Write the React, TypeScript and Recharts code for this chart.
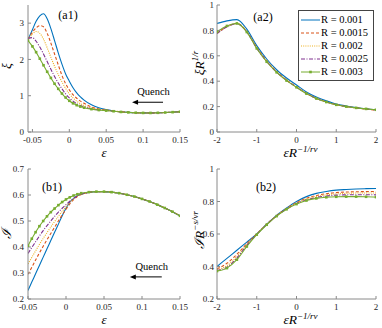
import React from 'react';
import { LineChart, Line, XAxis, YAxis, ReferenceLine, Legend } from 'recharts';

const FONT = 'Liberation Serif, Times New Roman, serif';
const AXIS = '#8a8a8a';
const INK = '#262626';

const R_NAMES = ['R = 0.001', 'R = 0.0015', 'R = 0.002', 'R = 0.0025', 'R = 0.003'];
const R_COLORS = ['#0072BD', '#D95319', '#EDB120', '#7E2F8E', '#77AC30'];
const R_DASHES = [undefined, '3 2', '1 1.2', '4 1.5 1 1.5', undefined];

// (a1) xi vs epsilon
const A1_EPS = [-0.056, -0.05, -0.045, -0.04, -0.035, -0.03, -0.025, -0.02, -0.015, -0.01, -0.005, 0, 0.005, 0.01, 0.015, 0.02, 0.03, 0.04, 0.05, 0.06, 0.07, 0.08, 0.09, 0.1, 0.11, 0.12, 0.13, 0.14, 0.15];
const A1_R0010 = [2.55, 2.82, 3.05, 3.2, 3.26, 3.12, 2.85, 2.52, 2.18, 1.87, 1.6, 1.4, 1.22, 1.08, 0.97, 0.88, 0.75, 0.67, 0.62, 0.58, 0.557, 0.542, 0.532, 0.527, 0.526, 0.53, 0.538, 0.548, 0.56];
const A1_R0015 = [2.55, 2.75, 2.87, 2.93, 2.9, 2.72, 2.45, 2.15, 1.85, 1.56, 1.33, 1.16, 1.03, 0.93, 0.85, 0.79, 0.69, 0.635, 0.605, 0.578, 0.556, 0.541, 0.531, 0.526, 0.525, 0.529, 0.537, 0.547, 0.559];
const A1_R0020 = [2.55, 2.7, 2.77, 2.72, 2.56, 2.32, 2.06, 1.81, 1.58, 1.38, 1.2, 1.05, 0.94, 0.85, 0.78, 0.73, 0.66, 0.62, 0.6, 0.576, 0.555, 0.541, 0.531, 0.526, 0.525, 0.529, 0.537, 0.547, 0.559];
const A1_R0025 = [2.58, 2.6, 2.5, 2.34, 2.15, 1.94, 1.73, 1.53, 1.35, 1.19, 1.05, 0.94, 0.85, 0.78, 0.73, 0.69, 0.64, 0.61, 0.595, 0.574, 0.554, 0.54, 0.531, 0.526, 0.525, 0.529, 0.537, 0.547, 0.559];
const A1_R0030 = [2.52, 2.36, 2.2, 2.02, 1.84, 1.66, 1.49, 1.33, 1.19, 1.06, 0.95, 0.86, 0.79, 0.74, 0.7, 0.67, 0.63, 0.605, 0.59, 0.572, 0.553, 0.54, 0.531, 0.526, 0.525, 0.529, 0.537, 0.547, 0.559];

// (a2) scaled xi
const A2_X = [-2, -1.75, -1.5, -1.25, -1, -0.75, -0.5, -0.25, 0, 0.25, 0.5, 0.75, 1, 1.25, 1.5, 1.75, 2];
const A2_R0010 = [0.855, 0.875, 0.885, 0.81, 0.68, 0.575, 0.49, 0.425, 0.37, 0.315, 0.275, 0.245, 0.22, 0.205, 0.193, 0.183, 0.175];
const A2_R0015 = [0.775, 0.83, 0.855, 0.79, 0.665, 0.56, 0.475, 0.41, 0.355, 0.305, 0.265, 0.237, 0.215, 0.2, 0.19, 0.18, 0.173];
const A2_R0020 = [0.78, 0.83, 0.855, 0.79, 0.663, 0.558, 0.473, 0.408, 0.354, 0.304, 0.265, 0.237, 0.215, 0.2, 0.19, 0.181, 0.174];
const A2_R0025 = [0.775, 0.828, 0.853, 0.788, 0.66, 0.556, 0.472, 0.407, 0.353, 0.303, 0.264, 0.236, 0.215, 0.2, 0.19, 0.181, 0.174];
const A2_R0030 = [0.79, 0.835, 0.855, 0.787, 0.658, 0.553, 0.47, 0.405, 0.352, 0.302, 0.263, 0.236, 0.214, 0.2, 0.19, 0.182, 0.175];

// (b1) I vs epsilon
const B1_EPS = [-0.05, -0.045, -0.04, -0.035, -0.03, -0.025, -0.02, -0.015, -0.01, -0.005, 0, 0.005, 0.01, 0.015, 0.02, 0.03, 0.04, 0.05, 0.06, 0.07, 0.08, 0.09, 0.1, 0.11, 0.12, 0.13, 0.14, 0.15];
const B1_R0010 = [0.233, 0.265, 0.297, 0.329, 0.361, 0.393, 0.425, 0.457, 0.488, 0.52, 0.549, 0.572, 0.587, 0.597, 0.603, 0.61, 0.613, 0.613, 0.611, 0.607, 0.601, 0.594, 0.585, 0.575, 0.563, 0.55, 0.536, 0.52];
const B1_R0015 = [0.295, 0.322, 0.35, 0.377, 0.403, 0.428, 0.452, 0.476, 0.5, 0.523, 0.545, 0.566, 0.582, 0.594, 0.602, 0.61, 0.613, 0.613, 0.611, 0.607, 0.601, 0.594, 0.585, 0.575, 0.563, 0.55, 0.536, 0.52];
const B1_R0020 = [0.335, 0.36, 0.385, 0.41, 0.433, 0.455, 0.477, 0.498, 0.518, 0.537, 0.555, 0.572, 0.585, 0.595, 0.602, 0.61, 0.613, 0.613, 0.611, 0.607, 0.601, 0.594, 0.585, 0.575, 0.563, 0.55, 0.536, 0.52];
const B1_R0025 = [0.375, 0.398, 0.42, 0.442, 0.463, 0.482, 0.5, 0.518, 0.534, 0.549, 0.563, 0.576, 0.587, 0.596, 0.603, 0.61, 0.613, 0.613, 0.611, 0.607, 0.601, 0.594, 0.585, 0.575, 0.563, 0.55, 0.536, 0.52];
const B1_R0030 = [0.405, 0.432, 0.457, 0.48, 0.5, 0.518, 0.534, 0.548, 0.561, 0.573, 0.583, 0.591, 0.598, 0.603, 0.607, 0.611, 0.613, 0.613, 0.611, 0.607, 0.601, 0.594, 0.585, 0.575, 0.563, 0.55, 0.536, 0.52];

// (b2) scaled I
const B2_X = [-2, -1.75, -1.5, -1.25, -1, -0.75, -0.5, -0.25, 0, 0.25, 0.5, 0.75, 1, 1.25, 1.5, 1.75, 2];
const B2_R0010 = [0.4, 0.45, 0.5, 0.55, 0.6, 0.66, 0.715, 0.76, 0.8, 0.83, 0.85, 0.862, 0.87, 0.874, 0.877, 0.879, 0.88];
const B2_R0015 = [0.385, 0.42, 0.475, 0.54, 0.6, 0.66, 0.713, 0.757, 0.793, 0.82, 0.837, 0.848, 0.855, 0.858, 0.86, 0.861, 0.862];
const B2_R0020 = [0.38, 0.405, 0.462, 0.535, 0.599, 0.659, 0.712, 0.755, 0.79, 0.815, 0.831, 0.841, 0.847, 0.85, 0.852, 0.852, 0.852];
const B2_R0025 = [0.376, 0.395, 0.452, 0.53, 0.598, 0.658, 0.711, 0.753, 0.787, 0.81, 0.825, 0.834, 0.839, 0.841, 0.842, 0.842, 0.841];
const B2_R0030 = [0.372, 0.39, 0.442, 0.523, 0.596, 0.657, 0.71, 0.752, 0.784, 0.806, 0.819, 0.826, 0.829, 0.83, 0.83, 0.829, 0.827];

const EPS_TICKS = [-0.05, 0, 0.05, 0.1, 0.15];
const SCALED_TICKS = [-2, -1, 0, 1, 2];
const A1_YTICKS = [0, 1, 2, 3];
const A2_YTICKS = [0, 0.2, 0.4, 0.6, 0.8, 1];
const B1_YTICKS = [0.2, 0.3, 0.4, 0.5, 0.6, 0.7];
const B2_YTICKS = [0.2, 0.4, 0.6, 0.8, 1];

const toRows = (xs: number[], series: number[][]) =>
  xs.map((x, i) => {
    const row: any = { x };
    series.forEach((s, k) => (row['s' + k] = s[i]));
    return row;
  });

const squareDot = (color: string) => (p: any) => (
  <rect key={`m-${p.index}`} x={p.cx - 1.3} y={p.cy - 1.3} width={2.6} height={2.6} fill={color} />
);

const QuenchArrow = (p: any) => {
  const { x1, y1, x2, y2 } = p;
  return (
    <g>
      <line x1={x1} y1={y1} x2={x2 + 4} y2={y2} stroke="#000" strokeWidth={1} />
      <polygon points={`${x2},${y2} ${x2 + 6},${y2 - 2.5} ${x2 + 6},${y2 + 2.5}`} fill="#000" />
      <text x={(x1 + x2) / 2 + 6} y={y1 - 7} textAnchor="middle" fontFamily={FONT} fontSize={10.5} fill="#000">
        Quench
      </text>
    </g>
  );
};

const renderLegend = () => (
  <div style={{ border: '1px solid #444', background: '#fff', padding: '2px 2px', width: 76, boxSizing: 'border-box' }}>
    {R_NAMES.map((name, k) => (
      <div key={name} style={{ display: 'flex', alignItems: 'center', height: 13, fontFamily: FONT, fontSize: 10.5, color: '#000', lineHeight: '13px' }}>
        <svg width={19} height={8} style={{ flex: 'none' }}>
          <line x1={0} y1={4} x2={19} y2={4} stroke={R_COLORS[k]} strokeWidth={1} strokeDasharray={R_DASHES[k]} />
          {k === 4 && <rect x={8.2} y={2.7} width={2.6} height={2.6} fill={R_COLORS[k]} />}
        </svg>
        <span style={{ marginLeft: 1, whiteSpace: 'nowrap' }}>{name}</span>
      </div>
    ))}
  </div>
);

const tickStyle = { fill: INK, fontSize: 9, fontFamily: FONT };

function Panel(props: any) {
  const { left, top, width, rows, xDomain, xTicks, yDomain, yTicks, margin, yWidth, yTickGap, xHeight, xTitle, yTitle, tag, tagDx, tagDy, arrow, legend, legendLeft } = props;
  const bottomLabel = (lp: any) => (
    <g>
      {xTitle(lp.viewBox)}
      <text x={lp.viewBox.x + tagDx} y={margin.top + tagDy} textAnchor="middle" fontFamily={FONT} fontSize={12} fill="#000">{tag}</text>
    </g>
  );
  return (
    <div style={{ position: 'absolute', left, top, fontFamily: FONT }}>
      <LineChart width={width} height={164} data={rows} margin={margin}>
        <XAxis xAxisId="b" type="number" dataKey="x" domain={xDomain} ticks={xTicks} allowDataOverflow interval={0}
          stroke={AXIS} tickSize={-3} tickMargin={8} height={xHeight} tick={tickStyle}
          label={{ content: bottomLabel }} />
        <XAxis xAxisId="t" orientation="top" type="number" dataKey="x" domain={xDomain} ticks={xTicks} allowDataOverflow interval={0}
          stroke={AXIS} tickSize={-3} tick={false} height={0} />
        <YAxis yAxisId="l" type="number" domain={yDomain} ticks={yTicks} allowDataOverflow interval={0}
          stroke={AXIS} tickSize={-3} tickMargin={yTickGap} width={yWidth} tick={tickStyle}
          label={{ content: (lp: any) => yTitle(lp.viewBox) }} />
        <YAxis yAxisId="r" orientation="right" type="number" domain={yDomain} ticks={yTicks} allowDataOverflow interval={0}
          stroke={AXIS} tickSize={-3} tick={false} width={0} />
        {legend && (
          <Legend layout="horizontal" align="center" verticalAlign="middle" content={renderLegend}
            wrapperStyle={{ left: legendLeft, top: 10, width: 76, height: 70 }} />
        )}
        {R_NAMES.map((name, k) => (
          <Line key={name} xAxisId="b" yAxisId="l" type="monotone" dataKey={'s' + k} name={name}
            stroke={R_COLORS[k]} strokeWidth={1.1} strokeDasharray={R_DASHES[k]}
            dot={k === 4 ? squareDot(R_COLORS[k]) : false} activeDot={false} isAnimationActive={false} />
        ))}
        {arrow && (
          <ReferenceLine xAxisId="b" yAxisId="l" segment={arrow} shape={QuenchArrow} ifOverflow="visible" />
        )}
      </LineChart>
    </div>
  );
}

const epsTitle = (dy: number) => (vb: any) => (
  <text x={vb.x + vb.width / 2} y={vb.y + dy} textAnchor="middle" fontFamily={FONT} fontSize={13} fontStyle="italic" fill="#000">ε</text>
);

const scaledXTitle = (dy: number) => (vb: any) => (
  <text x={vb.x + vb.width / 2 + 4} y={vb.y + dy} textAnchor="middle" fontFamily={FONT} fontSize={13.5} fontStyle="italic" fill="#000">
    εR<tspan dy={-5.5} fontSize={9}>−1/rν</tspan>
  </text>
);

const yTitleText = (bx: number, cy: number, content: React.ReactNode) => (vb: any) => (
  <text x={bx} y={vb.y + cy} transform={`rotate(-90, ${bx}, ${vb.y + cy})`} textAnchor="middle" fontFamily={FONT}
    fontSize={13.5} fontStyle="italic" fill="#000">
    {content}
  </text>
);

export default function App() {
  return (
    <div style={{ position: 'absolute', left: 0, top: 0, width: 382, height: 328, background: '#fff' }}>
      <Panel left={0} top={0} width={191}
        rows={toRows(A1_EPS, [A1_R0010, A1_R0015, A1_R0020, A1_R0025, A1_R0030])}
        xDomain={[-0.056, 0.15]} xTicks={EPS_TICKS} yDomain={[0, 3.5]} yTicks={A1_YTICKS}
        margin={{ top: 5, right: 11, bottom: 0, left: 0 }} yWidth={28} yTickGap={7} xHeight={32}
        xTitle={epsTitle(25)} yTitle={yTitleText(11, 61, 'ξ')}
        tag="(a1)" tagDx={40} tagDy={14}
        arrow={[{ x: 0.127, y: 0.82 }, { x: 0.085, y: 0.82 }]} />
      <Panel left={185} top={0} width={197}
        rows={toRows(A2_X, [A2_R0010, A2_R0015, A2_R0020, A2_R0025, A2_R0030])}
        xDomain={[-2, 2]} xTicks={SCALED_TICKS} yDomain={[0, 1]} yTicks={A2_YTICKS}
        margin={{ top: 5, right: 6, bottom: 0, left: 0 }} yWidth={32} yTickGap={6} xHeight={32}
        xTitle={scaledXTitle(25)} yTitle={yTitleText(18.5, 58, <>ξR<tspan dy={-5.5} fontSize={9}>1/r</tspan></>)}
        tag="(a2)" tagDx={46} tagDy={16} legend legendLeft={113} />
      <Panel left={0} top={164} width={191}
        rows={toRows(B1_EPS, [B1_R0010, B1_R0015, B1_R0020, B1_R0025, B1_R0030])}
        xDomain={[-0.05, 0.15]} xTicks={EPS_TICKS} yDomain={[0.2, 0.7]} yTicks={B1_YTICKS}
        margin={{ top: 5, right: 11, bottom: 0, left: 0 }} yWidth={28} yTickGap={7} xHeight={29}
        xTitle={epsTitle(25)} yTitle={yTitleText(11, 65, 'ℐ')}
        tag="(b1)" tagDx={24} tagDy={22}
        arrow={[{ x: 0.126, y: 0.285 }, { x: 0.084, y: 0.285 }]} />
      <Panel left={185} top={164} width={197}
        rows={toRows(B2_X, [B2_R0010, B2_R0015, B2_R0020, B2_R0025, B2_R0030])}
        xDomain={[-2, 2]} xTicks={SCALED_TICKS} yDomain={[0.2, 1]} yTicks={B2_YTICKS}
        margin={{ top: 5, right: 6, bottom: 0, left: 0 }} yWidth={32} yTickGap={6} xHeight={29}
        xTitle={scaledXTitle(25)} yTitle={yTitleText(18.5, 61, <>ℐR<tspan dy={-5.5} fontSize={9}>−s/νr</tspan></>)}
        tag="(b2)" tagDx={49} tagDy={22} />
    </div>
  );
}
